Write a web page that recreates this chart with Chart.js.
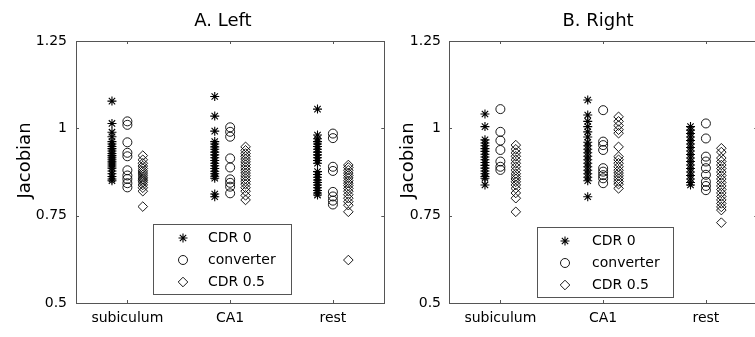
<!DOCTYPE html>
<html>
<head>
<meta charset="utf-8">
<script src="https://cdn.jsdelivr.net/npm/chart.js@4.4.1/dist/chart.umd.min.js"></script>
<style>
  html, body { margin: 0; padding: 0; background: #fff; overflow: hidden; }
  #wrap { position: relative; width: 755px; height: 337px; overflow: hidden; }
  .panel { position: absolute; top: 0; width: 390px; height: 337px; }
</style>
</head>
<body>
<div id="wrap">
  <div class="panel" style="left:0"><canvas id="leftChart"></canvas></div>
  <div class="panel" style="left:373px"><canvas id="rightChart"></canvas></div>
</div>
<script>
const categories = ["subiculum", "CA1", "rest"];
const groupLabels = ["CDR 0", "converter", "CDR 0.5"];
const yTicks = [0.5, 0.75, 1, 1.25];

// values per region: [subiculum, CA1, rest]
const leftCdr0 = [
  [1.078, 1.014, 0.989, 0.976, 0.962, 0.955, 0.948, 0.942, 0.935, 0.928, 0.922, 0.916, 0.91, 0.904, 0.898, 0.892, 0.886, 0.878, 0.87, 0.862, 0.855, 0.85],
  [1.091, 1.035, 0.992, 0.962, 0.955, 0.947, 0.94, 0.932, 0.924, 0.916, 0.908, 0.9, 0.893, 0.885, 0.877, 0.87, 0.863, 0.857, 0.812, 0.804],
  [1.055, 0.981, 0.97, 0.962, 0.955, 0.948, 0.94, 0.932, 0.924, 0.916, 0.908, 0.9, 0.876, 0.868, 0.86, 0.852, 0.845, 0.838, 0.83, 0.822, 0.815, 0.809]
];
const leftConverter = [
  [1.02, 1.01, 0.96, 0.93, 0.92, 0.88, 0.865, 0.855, 0.843, 0.831],
  [1.003, 0.99, 0.976, 0.914, 0.888, 0.854, 0.844, 0.833, 0.814],
  [0.985, 0.972, 0.89, 0.878, 0.818, 0.805, 0.793, 0.782]
];
const leftCdr05 = [
  [0.922, 0.91, 0.9, 0.892, 0.885, 0.878, 0.872, 0.866, 0.86, 0.855, 0.85, 0.845, 0.838, 0.83, 0.82, 0.776],
  [0.947, 0.937, 0.928, 0.92, 0.912, 0.904, 0.896, 0.888, 0.88, 0.872, 0.864, 0.856, 0.848, 0.84, 0.83, 0.82, 0.808, 0.795],
  [0.895, 0.888, 0.88, 0.872, 0.865, 0.858, 0.85, 0.843, 0.836, 0.828, 0.82, 0.81, 0.8, 0.79, 0.78, 0.761, 0.623]
];
const rightCdr0 = [
  [1.041, 1.005, 0.967, 0.958, 0.95, 0.942, 0.934, 0.926, 0.918, 0.91, 0.902, 0.894, 0.886, 0.878, 0.87, 0.862, 0.857, 0.838],
  [1.081, 1.038, 1.02, 1.005, 0.99, 0.975, 0.96, 0.95, 0.94, 0.93, 0.92, 0.91, 0.9, 0.89, 0.88, 0.87, 0.86, 0.85, 0.804],
  [1.005, 0.995, 0.985, 0.975, 0.965, 0.955, 0.945, 0.935, 0.925, 0.915, 0.905, 0.895, 0.885, 0.875, 0.865, 0.855, 0.845, 0.838]
];
const rightConverter = [
  [1.055, 0.99, 0.965, 0.938, 0.905, 0.89, 0.881],
  [1.052, 0.962, 0.952, 0.938, 0.886, 0.876, 0.866, 0.857, 0.843],
  [1.014, 0.971, 0.919, 0.905, 0.886, 0.867, 0.847, 0.835, 0.823]
];
const rightCdr05 = [
  [0.952, 0.94, 0.93, 0.92, 0.91, 0.9, 0.89, 0.88, 0.87, 0.862, 0.855, 0.847, 0.838, 0.828, 0.815, 0.8, 0.761],
  [1.033, 1.02, 1.008, 0.996, 0.986, 0.947, 0.919, 0.91, 0.9, 0.89, 0.88, 0.872, 0.864, 0.856, 0.848, 0.84, 0.828],
  [0.943, 0.932, 0.915, 0.905, 0.895, 0.885, 0.875, 0.865, 0.855, 0.845, 0.835, 0.825, 0.815, 0.805, 0.795, 0.785, 0.775, 0.766, 0.73]
];

const FONT = "'DejaVu Sans', sans-serif";
const AXIS_COLOR = "#555";
const styles = [
  { pointStyle: "star", radius: 4.5, width: 1.1 },
  { pointStyle: "circle", radius: 4.5, width: 0.9 },
  { pointStyle: "rectRot", radius: 4.8, width: 0.9 }
];
const offsets = [-0.15, 0, 0.15];

function toPoints(groups, offset) {
  const pts = [];
  groups.forEach((vals, i) => vals.forEach(v => pts.push({ x: i + 1 + offset, y: v })));
  return pts;
}

// frame, inward ticks, titles and the boxed legend
const panelDecor = {
  id: "panelDecor",
  afterDraw(chart, args, opts) {
    const ctx = chart.ctx;
    const { left, right, top, bottom } = chart.chartArea;
    const xs = chart.scales.x, ys = chart.scales.y;
    ctx.save();
    ctx.strokeStyle = AXIS_COLOR;
    ctx.lineWidth = 1;
    ctx.strokeRect(Math.round(left) + 0.5, Math.round(top) + 0.5, Math.round(right - left), Math.round(bottom - top));
    ctx.beginPath();
    xs.ticks.forEach(t => {
      const px = Math.round(xs.getPixelForValue(t.value)) + 0.5;
      ctx.moveTo(px, bottom); ctx.lineTo(px, bottom - 3);
      ctx.moveTo(px, top); ctx.lineTo(px, top + 3);
    });
    ys.ticks.forEach(t => {
      const py = Math.round(ys.getPixelForValue(t.value)) + 0.5;
      ctx.moveTo(left, py); ctx.lineTo(left + 3, py);
      ctx.moveTo(right, py); ctx.lineTo(right - 3, py);
    });
    ctx.stroke();

    ctx.fillStyle = "#000";
    ctx.font = "18px " + FONT;
    ctx.textAlign = "center";
    ctx.textBaseline = "alphabetic";
    ctx.fillText(opts.title, opts.titleX, 26);

    ctx.save();
    ctx.translate(opts.ylabelX, 160.5);
    ctx.rotate(-Math.PI / 2);
    ctx.fillText("Jacobian", 0, 0);
    ctx.restore();

    const lg = opts.legend;
    ctx.fillStyle = "#fff";
    ctx.fillRect(lg.x, lg.y, lg.w, lg.h);
    ctx.strokeStyle = AXIS_COLOR;
    ctx.strokeRect(lg.x + 0.5, lg.y + 0.5, lg.w, lg.h);
    ctx.font = "14px " + FONT;
    ctx.textAlign = "left";
    ctx.textBaseline = "middle";
    chart.data.datasets.forEach((ds, i) => {
      const ry = lg.y + 14 + i * 22;
      ctx.strokeStyle = "#000";
      ctx.fillStyle = "rgba(0,0,0,0)";
      ctx.lineWidth = ds.pointBorderWidth;
      Chart.helpers.drawPoint(ctx, { pointStyle: ds.pointStyle, radius: ds.pointRadius, borderWidth: ds.pointBorderWidth, rotation: 0 }, lg.markerX, ry);
      ctx.fillStyle = "#000";
      ctx.fillText(ds.label, lg.textX, ry);
    });
    ctx.restore();
  }
};

function makeChart(canvasId, groups, decor, rightPad, yPad) {
  const datasets = groups.map((g, i) => ({
    label: groupLabels[i],
    data: toPoints(g, offsets[i]),
    pointStyle: styles[i].pointStyle,
    pointRadius: styles[i].radius,
    pointHoverRadius: styles[i].radius,
    pointBorderWidth: styles[i].width,
    borderColor: "#000",
    backgroundColor: "rgba(0,0,0,0)",
    showLine: false
  }));
  return new Chart(document.getElementById(canvasId), {
    type: "scatter",
    data: { datasets },
    plugins: [panelDecor],
    options: {
      responsive: true,
      maintainAspectRatio: false,
      animation: false,
      layout: { padding: { top: 41, right: rightPad, bottom: 0, left: 0 } },
      plugins: {
        legend: { display: false },
        tooltip: { enabled: false },
        panelDecor: decor
      },
      scales: {
        x: {
          type: "linear",
          min: 0.5,
          max: 3.5,
          grid: { display: false, drawTicks: false },
          border: { display: false },
          afterBuildTicks(scale) { scale.ticks = categories.map((c, i) => ({ value: i + 1 })); },
          afterFit(scale) { scale.height = 34; },
          ticks: {
            color: "#000",
            padding: 7,
            font: { family: FONT, size: 14 },
            callback: v => categories[v - 1]
          }
        },
        y: {
          min: 0.5,
          max: 1.25,
          grid: { display: false, drawTicks: false },
          border: { display: false },
          afterBuildTicks(scale) { scale.ticks = yTicks.map(v => ({ value: v })); },
          afterFit(scale) { scale.width = 76; },
          ticks: {
            color: "#000",
            padding: yPad,
            font: { family: FONT, size: 14 },
            callback: v => String(v)
          }
        }
      }
    }
  });
}

makeChart("leftChart", [leftCdr0, leftConverter, leftCdr05], {
  title: "A. Left", titleX: 223, ylabelX: 29.5,
  legend: { x: 153, y: 224, w: 138, h: 70, markerX: 183, textX: 208 }
}, 4, 9);

makeChart("rightChart", [rightCdr0, rightConverter, rightCdr05], {
  title: "B. Right", titleX: 225, ylabelX: 40,
  legend: { x: 164, y: 227, w: 136, h: 70, markerX: 192, textX: 219 }
}, 3, 8);
</script>
</body>
</html>
